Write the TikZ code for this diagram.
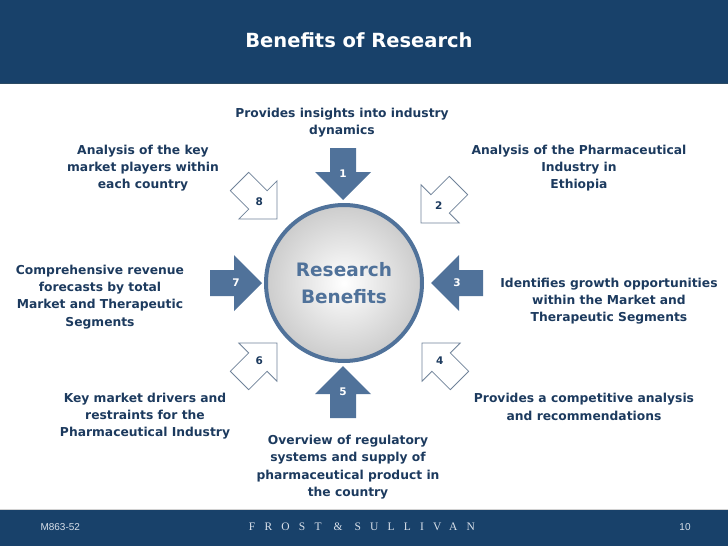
\documentclass[tikz,border=0pt]{standalone}
\usepackage{fontspec}
\setmainfont{DejaVu Sans}
\newfontfamily\footfont{Liberation Sans}
\newfontfamily\brandfont[LetterSpace=80]{Liberation Serif}
\usepackage{tikz}
\definecolor{bandblue}{HTML}{18416A}
\definecolor{bandline}{HTML}{2B4A63}
\definecolor{steelblue}{HTML}{50729A}
\definecolor{navytext}{HTML}{1C3A5E}
\definecolor{outlinegray}{HTML}{6F8299}
\definecolor{footwhite}{HTML}{D8E0EA}

\begin{document}
\begin{tikzpicture}[x=1pt, y=-1pt,
  benefit/.style={
    align=center, text=navytext, inner sep=0pt,
    font=\bfseries\fontsize{12.3}{17.3}\selectfont
  },
  core/.style={
    circle, draw=steelblue, line width=4pt, minimum size=156pt,
    inner color=white, outer color=gray!40, text=steelblue,
    align=center, font=\bfseries\fontsize{18.5}{27}\selectfont
  },
  numlabel/.style={inner sep=0pt, font=\bfseries\fontsize{10.5}{12}\selectfont},
  foottext/.style={text=footwhite, font=\footfont\fontsize{10}{12}\selectfont},
  pics/fullarrow/.style={code={
    \path[fill=steelblue] (0,0) -- (-28,28) -- (-28,13) -- (-52,13)
      -- (-52,-13) -- (-28,-13) -- (-28,-28) -- cycle;
    \node[numlabel, text=white] (-n) at (-26,0) {\tikzpictext};
  }},
  pics/openarrow/.style={code={
    \path[draw=outlinegray, line width=0.8pt, fill=white] (0,0) -- (-27,27)
      -- (-27,13) -- (-53,13) -- (-53,-13) -- (-27,-13) -- (-27,-27) -- cycle;
    \node[numlabel, text=navytext] (-n) at (-25,0) {\tikzpictext};
  }}
]
\useasboundingbox (0,0) rectangle (728,546);

% header and footer bands
\fill[bandblue] (0,0) rectangle (728,84);
\draw[bandline, line width=1.5pt] (0,83.5) -- (728,83.5);
\fill[bandblue] (0,509) rectangle (728,546);
\draw[gray!35, line width=1pt] (0,509) -- (728,509);
\node[text=white, font=\bfseries\fontsize{19.5}{22}\selectfont] (title) at (359,40) {Benefits of Research};

% arrows round the hub
\pic (a1) [rotate=-90, pic text=1] at (343,200) {fullarrow};
\pic (a2) [rotate=-135, pic text=2] at (421,223) {openarrow};
\pic (a3) [rotate=180, pic text=3] at (431,283) {fullarrow};
\pic (a4) [rotate=135, pic text=4] at (422,343) {openarrow};
\pic (a5) [rotate=90, pic text=5] at (343,366) {fullarrow};
\pic (a6) [rotate=45, pic text=6] at (277,343) {openarrow};
\pic (a7) [rotate=0, pic text=7] at (262,283) {fullarrow};
\pic (a8) [rotate=-45, pic text=8] at (277,219) {openarrow};

\node[core] (hub) at (344,283) {Research\\Benefits};

% the eight benefits
\node[benefit] (b1) at (342,123) {Provides insights into industry\\dynamics};
\node[benefit] (b2) at (579,168) {Analysis of the Pharmaceutical\\Industry in\\Ethiopia};
\node[benefit] (b3) at (609,301) {Identifies growth opportunities\\within the Market and\\Therapeutic Segments};
\node[benefit] (b4) at (584,407) {Provides a competitive analysis\\and recommendations};
\node[benefit] (b5) at (348,467) {Overview of regulatory\\systems and supply of\\pharmaceutical product in\\the country};
\node[benefit] (b6) at (145,416) {Key market drivers and\\restraints for the\\Pharmaceutical Industry};
\node[benefit] (b7) at (100,297) {Comprehensive revenue\\forecasts by total\\Market and Therapeutic\\Segments};
\node[benefit] (b8) at (143,168) {Analysis of the key\\market players within\\each country};

% footer
\node[foottext, anchor=west] (code) at (37,527) {M863-52};
\node[text=footwhite, font=\brandfont\fontsize{11.5}{13}\selectfont] (brand) at (362,527) {FROST \& SULLIVAN};
\node[foottext] (page) at (685,527) {10};
\end{tikzpicture}
\end{document}
